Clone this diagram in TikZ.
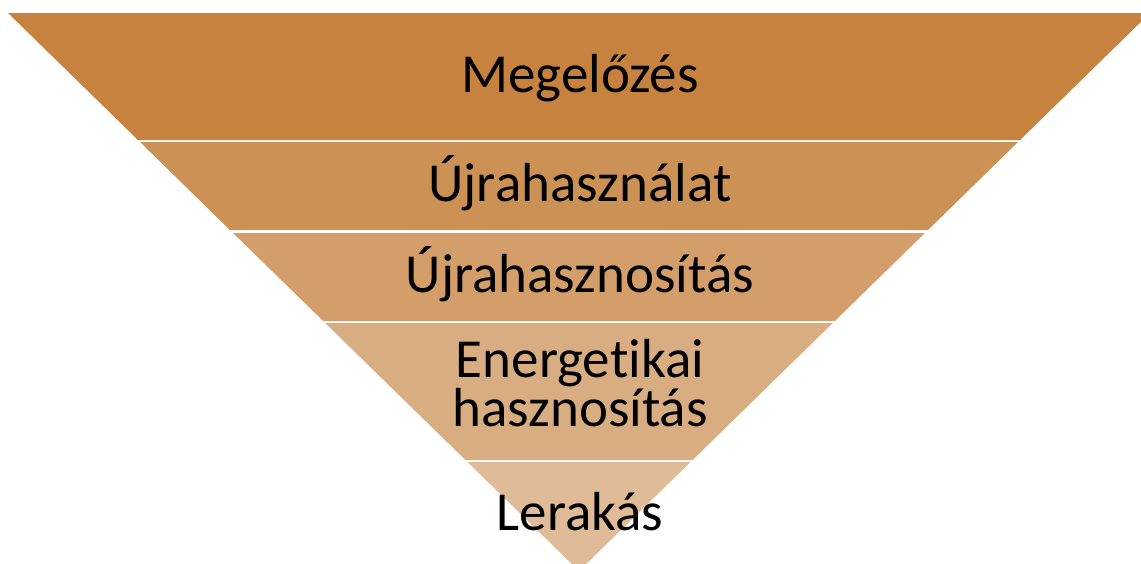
\documentclass[tikz,border=0pt]{standalone}
\usepackage{fontspec}
\setmainfont{Carlito}[Ligatures=NoCommon]
\usepackage{tikz}
\usepackage{xcolor}
\definecolor{bandone}{RGB}{198, 130, 62}
\definecolor{bandtwo}{RGB}{204, 145, 85}
\definecolor{bandthree}{RGB}{211, 158, 106}
\definecolor{bandfour}{RGB}{217, 173, 130}
\definecolor{bandfive}{RGB}{224, 187, 151}

\begin{document}
\begin{tikzpicture}[
  x=1pt, y=-1pt,
  label/.style={anchor=base, inner sep=0pt, text=black, align=center,
                font=\fontsize{55}{49}\selectfont}
]
  \useasboundingbox (0,0) rectangle (1141,563);
  \clip (0,0) rectangle (1141,563);

  % bands of the inverted pyramid
  \fill[bandone]   (8,13)      -- (1150,13)    -- (1020,140)  -- (138,140)   -- cycle;
  \fill[bandtwo]   (140,142)   -- (1018,142)   -- (928,230)   -- (230,230)   -- cycle;
  \fill[bandthree] (233.1,233) -- (924.9,233)  -- (834.8,321) -- (323.2,321) -- cycle;
  \fill[bandfour]  (325.2,323) -- (832.8,323)  -- (692.6,460) -- (465.4,460) -- cycle;
  \fill[bandfive]  (467.5,462) -- (690.5,462)  -- (579,571)   -- cycle;

  % labels
  \node[label] (prevent)  at (580,92.7)  {Megelőzés};
  \node[label] (reuse)    at (580,201.7) {Újrahasználat};
  \node[label] (recycle)  at (580,292.5) {Újrahasznosítás};
  \node[label] (energy)   at (580,426.7) {Energetikai\\hasznosítás};
  \node[label] (landfill) at (580,530)   {Lerakás};
\end{tikzpicture}
\end{document}
